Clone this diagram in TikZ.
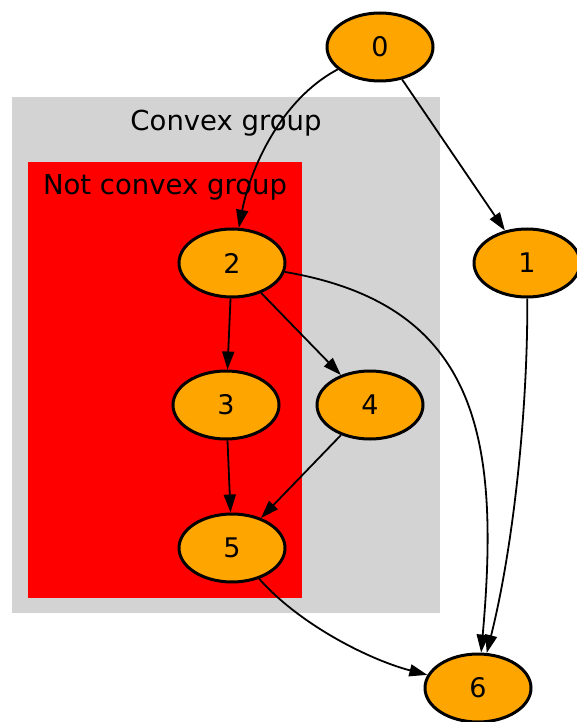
\documentclass[tikz,border=0pt]{standalone}
\usepackage{fontspec}
\setmainfont{DejaVu Sans}
\usetikzlibrary{shapes.geometric,arrows.meta}
\definecolor{gvorange}{HTML}{FFA500}
\definecolor{gvgray}{HTML}{D3D3D3}
\definecolor{gvred}{HTML}{FF0000}
\begin{document}
\begin{tikzpicture}[x=1pt,y=-1pt,
  vertex/.style={ellipse,draw=black,fill=gvorange,line width=3pt,minimum width=106pt,minimum height=68pt,inner sep=0pt,font=\fontsize{27}{27}\selectfont},
  edge/.style={line width=1.8pt,-{Triangle[length=18pt,width=12pt]}},
  cluslabel/.style={font=\fontsize{27.5}{27.5}\selectfont,inner sep=0pt}]
\useasboundingbox (0,0) rectangle (576,722);
\fill[gvgray] (12,97) rectangle (440,613);
\fill[gvred] (28,162) rectangle (302,598);
\node[cluslabel] (convex) at (226,123) {Convex group};
\node[cluslabel] (notconvex) at (165,187) {Not convex group};
\node[vertex] (n0) at (380,47) {0};
\node[vertex] (n2) at (232,263) {2};
\node[vertex] (n1) at (527,263) {1};
\node[vertex] (n3) at (226,405) {3};
\node[vertex] (n4) at (370,405) {4};
\node[vertex] (n5) at (232,548) {5};
\node[vertex] (n6) at (478,688) {6};
\draw[edge] (n0) .. controls (280,100) and (250,170) .. (n2);
\draw[edge] (n0) -- (n1);
\draw[edge] (n2) -- (n3);
\draw[edge] (n2) -- (n4);
\draw[edge] (n2) .. controls (480,305) and (500,440) .. (n6);
\draw[edge] (n1) .. controls (528,400) and (515,540) .. (n6);
\draw[edge] (n3) -- (n5);
\draw[edge] (n4) -- (n5);
\draw[edge] (n5) .. controls (300,625) and (370,660) .. (n6);
\end{tikzpicture}
\end{document}
